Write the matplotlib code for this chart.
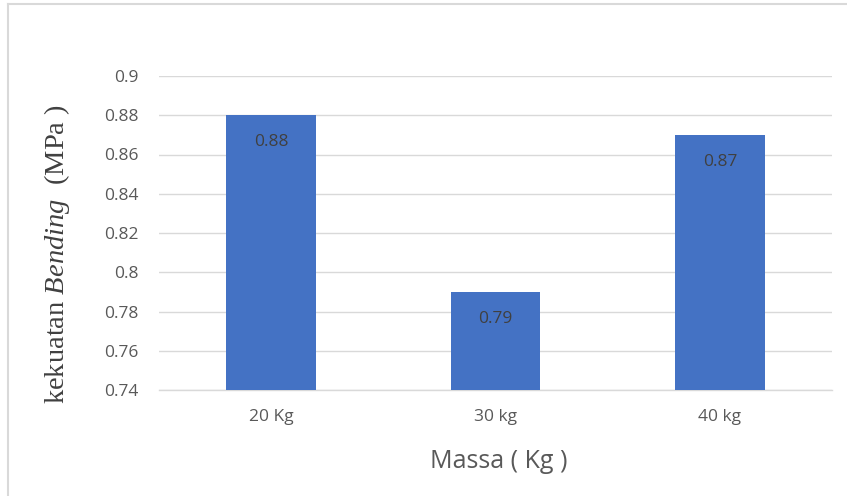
import matplotlib
matplotlib.use("Agg")
import matplotlib.pyplot as plt
from matplotlib.lines import Line2D

categories = ["20 Kg", "30 kg", "40 kg"]
values = [0.88, 0.79, 0.87]
y_ticks = [0.74, 0.76, 0.78, 0.80, 0.82, 0.84, 0.86, 0.88, 0.90]
y_tick_labels = ["0.74", "0.76", "0.78", "0.8", "0.82", "0.84", "0.86", "0.88", "0.9"]

W, H = 847, 496
fig = plt.figure(figsize=(W / 100, H / 100), dpi=100)
fig.patch.set_facecolor("white")

plt.rcParams["mathtext.fontset"] = "custom"
plt.rcParams["mathtext.rm"] = "Liberation Serif"
plt.rcParams["mathtext.it"] = "Liberation Serif:italic"

# chart frame (left and top edges visible)
fig.add_artist(Line2D([8 / W, 8 / W], [0, 1 - 4 / H], transform=fig.transFigure,
                      color="#d9d9d9", lw=1.5))
fig.add_artist(Line2D([8 / W, 1], [1 - 4 / H, 1 - 4 / H], transform=fig.transFigure,
                      color="#d9d9d9", lw=1.5))

left, right, top, bottom = 159, 832, 76, 390
ax = fig.add_axes([left / W, 1 - bottom / H, (right - left) / W, (bottom - top) / H])

x = range(len(categories))
bars = ax.bar(x, values, width=0.4, color="#4472C4", zorder=3)

ax.set_xlim(-0.5, len(categories) - 0.5)
ax.set_ylim(0.74, 0.90)
ax.set_yticks(y_ticks)
ax.set_yticklabels(y_tick_labels)
ax.set_xticks(list(x))
ax.set_xticklabels(categories)

ax.grid(axis="y", color="#d9d9d9", lw=1, zorder=0)
for s in ["top", "right", "left"]:
    ax.spines[s].set_visible(False)
ax.spines["bottom"].set_color("#d9d9d9")
ax.spines["bottom"].set_linewidth(1)

ax.tick_params(axis="y", length=0, pad=15, labelsize=12.5, labelcolor="#595959")
ax.tick_params(axis="x", length=0, pad=14, labelsize=12.5, labelcolor="#595959")
for t in ax.get_xticklabels() + ax.get_yticklabels():
    t.set_family("Open Sans")

for i, v in enumerate(values):
    ax.annotate(f"{v:.2f}", xy=(i, v), xytext=(0, -19.5), textcoords="offset points",
                ha="center", va="center", fontsize=12.5, color="#404040",
                family="Open Sans", zorder=4)

fig.text(499 / W, 1 - 461 / H, "Massa ( Kg )", ha="center", va="center",
         fontsize=18, color="#595959", family="Open Sans")
fig.text(57 / W, 1 - 254 / H, r"kekuatan $\mathit{Bending}$  (MPa )", ha="center",
         va="center", rotation=90, fontsize=20.5, color="#404040",
         family="Liberation Serif")

fig.savefig("out.png", dpi=100)
